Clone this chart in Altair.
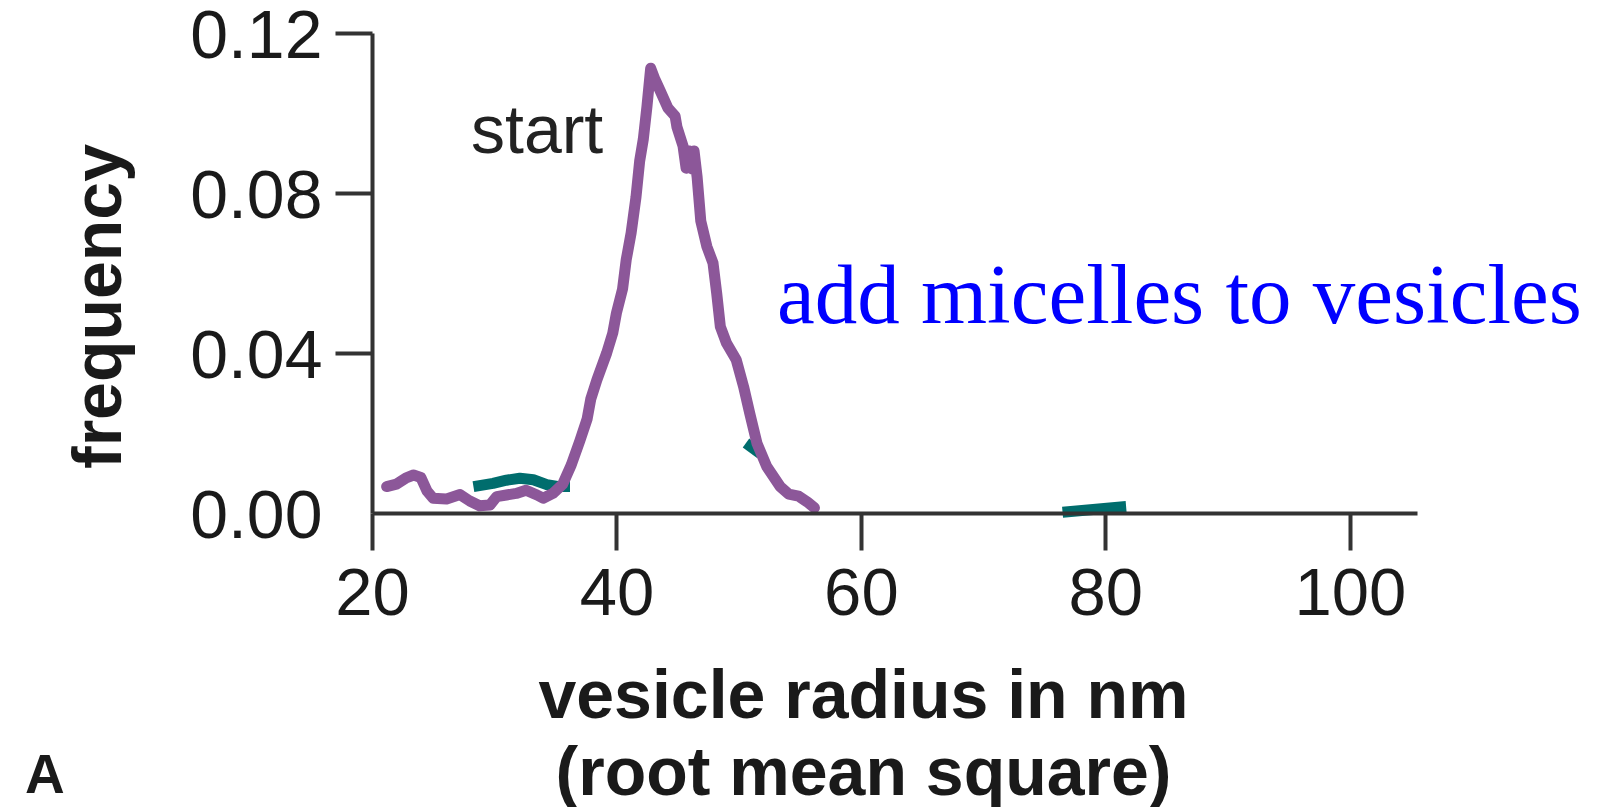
import altair as alt
import pandas as pd

# vesicle size distribution before micelle addition ("start")
start_radius = [21.2, 22.0, 22.8, 23.4, 24.0, 24.5, 25.0, 26.1, 27.2, 28.0, 28.8, 29.65,
                30.2, 31.0, 31.8, 32.6, 33.5, 34.0, 34.8, 35.6, 36.3, 37.0, 37.6, 37.9,
                38.4, 39.2, 39.7, 40.0, 40.5, 40.8, 41.2, 41.6, 41.9, 42.2, 42.5, 42.8,
                43.15, 43.6, 44.2, 44.8, 44.95, 45.45, 45.7, 45.95, 46.2, 46.35, 46.6,
                46.9, 47.4, 47.9, 48.2, 48.5, 49.0, 49.8, 50.4, 50.9, 51.5, 52.3, 53.4,
                54.1, 54.9, 55.6, 56.2]
start_freq = [0.0066, 0.0072, 0.0088, 0.0095, 0.0089, 0.0055, 0.0037, 0.0035, 0.0046,
              0.0030, 0.0018, 0.0020, 0.0041, 0.0045, 0.0049, 0.0057, 0.0045, 0.0037,
              0.0049, 0.0072, 0.0120, 0.0180, 0.0235, 0.0285, 0.0333, 0.0400, 0.0450,
              0.0500, 0.0560, 0.0633, 0.0700, 0.0790, 0.0880, 0.0935, 0.1017, 0.1112,
              0.1084, 0.1054, 0.1013, 0.0992, 0.0965, 0.0917, 0.0862, 0.0905, 0.0860,
              0.0905, 0.0840, 0.0730, 0.0666, 0.0625, 0.0550, 0.0466, 0.0425, 0.0383,
              0.0316, 0.0250, 0.0174, 0.0116, 0.0066, 0.0047, 0.0042, 0.0028, 0.0013]

# remaining visible pieces of the second distribution
after_piece = ["a"] * 8 + ["b"] * 2 + ["c"] * 3
after_radius = [28.3, 29.9, 31.0, 32.1, 33.2, 34.3, 35.3, 36.2,
                50.6, 51.8,
                76.5, 79.0, 81.7]
after_freq = [0.0066, 0.0074, 0.0082, 0.0087, 0.0083, 0.0071, 0.0066, 0.0066,
              0.0175, 0.0148,
              0.0002, 0.0009, 0.0016]

x_ticks = [20, 40, 60, 80, 100]
y_ticks = [0.0, 0.04, 0.08, 0.12]

start_df = pd.DataFrame({"radius": start_radius, "frequency": start_freq})
after_df = pd.DataFrame({"radius": after_radius, "frequency": after_freq, "piece": after_piece})

FONT = "Liberation Sans"
AXIS_COLOR = "#333333"
TEXT_COLOR = "#1a1a1a"

x_enc = alt.X(
    "radius:Q",
    scale=alt.Scale(domain=[20, 105.5], nice=False, zero=False),
    axis=alt.Axis(
        values=x_ticks, format="d", grid=False,
        domainColor=AXIS_COLOR, domainWidth=4, tickColor=AXIS_COLOR, tickWidth=4,
        tickSize=37, labelFontSize=67, labelFont=FONT, labelColor=TEXT_COLOR,
        labelPadding=11, labelFlush=False, labelOverlap=False,
        title=["vesicle radius in nm", "(root mean square)"],
        titleFont=FONT, titleFontSize=68, titleFontWeight="bold", titleColor=TEXT_COLOR,
        titleX=491, titleY=204, titleAlign="center", titleBaseline="alphabetic",
        titleLineHeight=77, zindex=1,
    ),
)
y_enc = alt.Y(
    "frequency:Q",
    scale=alt.Scale(domain=[0, 0.12], nice=False),
    axis=alt.Axis(
        values=y_ticks, format=".2f", grid=False,
        domainColor=AXIS_COLOR, domainWidth=4, tickColor=AXIS_COLOR, tickWidth=4,
        tickSize=37,
        tickOpacity={"condition": {"test": "datum.value == 0", "value": 0}, "value": 1},
        labelFontSize=68, labelFont=FONT, labelColor=TEXT_COLOR, labelPadding=13,
        labelOffset=4, labelFlush=False, labelOverlap=False, labelBaseline="middle",
        title="frequency", titleFont=FONT, titleFontSize=68, titleFontWeight="bold",
        titleColor=TEXT_COLOR, titleAngle=270, titleX=-252, titleY=273,
        titleAlign="center", titleBaseline="alphabetic", zindex=1,
    ),
)

after_line = alt.Chart(after_df).mark_line(
    color="#006d6d", strokeWidth=11, strokeCap="butt", strokeJoin="round"
).encode(x=x_enc, y=y_enc, detail="piece:N")

start_line = alt.Chart(start_df).mark_line(
    color="#8c5799", strokeWidth=11, strokeCap="round", strokeJoin="round"
).encode(x="radius:Q", y="frequency:Q")


def label(text, x, y, size, color, font=FONT, weight="normal"):
    return alt.Chart(pd.DataFrame({"t": [text]})).mark_text(
        align="left", baseline="alphabetic", font=font, fontSize=size,
        fontWeight=weight, color=color,
    ).encode(x=alt.value(x), y=alt.value(y), text="t:N")


start_label = label("start", 99, 120, 68, "#222222")
micelle_label = label("add micelles to vesicles", 405, 290, 85, "#0000ff",
                      font="Liberation Serif")
panel_label = label("A", -347, 760, 55, TEXT_COLOR, weight="bold")

chart = alt.layer(after_line, start_line, start_label, micelle_label, panel_label).properties(
    width=1045,
    height=480,
    autosize=alt.AutoSizeParams(type="none"),
    padding={"left": 372, "top": 33, "right": 183, "bottom": 294},
    background="white",
).configure_view(stroke=None)

chart.save("out.html", embed_options={"renderer": "svg", "actions": False})
